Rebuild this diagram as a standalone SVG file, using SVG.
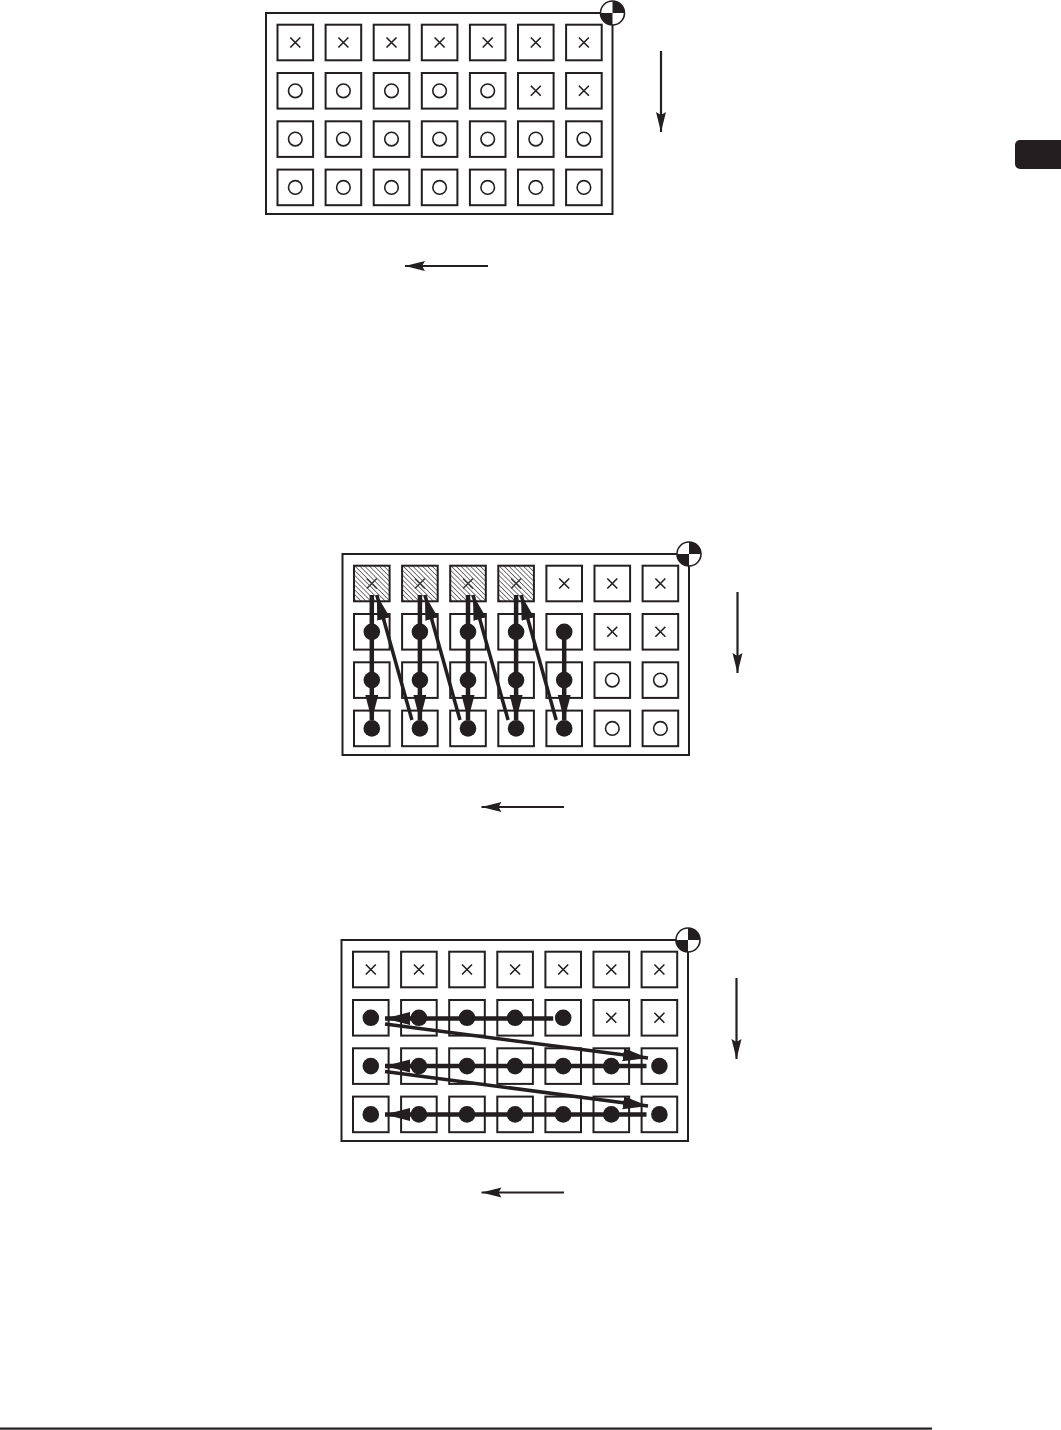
<svg xmlns="http://www.w3.org/2000/svg" xmlns:xlink="http://www.w3.org/1999/xlink" width="1061" height="1430" viewBox="0 0 1061 1430">
<style>
.frame{fill:#fff;stroke:#231f20;stroke-width:2}
.cell{fill:none;stroke:#231f20;stroke-width:2}
.xm{fill:none;stroke:#231f20;stroke-width:1.6}
.oc{fill:none;stroke:#231f20;stroke-width:1.6}
.dot{fill:#231f20}
.dir{stroke:#231f20;stroke-width:2.2;fill:none}
.flow{stroke:#231f20;stroke-width:4.5;fill:none}
.flowd{stroke:#231f20;stroke-width:3.5;fill:none}
</style>
<defs>
<pattern id="hatch" patternUnits="userSpaceOnUse" width="3.4" height="3.4" patternTransform="rotate(-45)">
<line x1="0" y1="0" x2="0" y2="3.4" stroke="#231f20" stroke-width="1.2"/>
</pattern>
<rect id="cell" class="cell" x="-17.8" y="-17.8" width="35.6" height="35.6"/>
<g id="cx"><use href="#cell"/><path class="xm" d="M-5,-5L5,5M5,-5L-5,5"/></g>
<g id="co"><use href="#cell"/><circle class="oc" r="6.8"/></g>
<g id="cd"><use href="#cell"/><circle class="dot" r="8.3"/></g>
<g id="ch"><rect x="-17.8" y="-17.8" width="35.6" height="35.6" fill="url(#hatch)" stroke="#231f20" stroke-width="2"/><path d="M-5,-5L5,5M5,-5L-5,5" stroke="#3a3a3a" stroke-width="1.6"/></g>
<g id="cog">
<circle r="12" fill="#fff" stroke="#231f20" stroke-width="1.6"/>
<path d="M0,0L0,-12A12,12 0 0 1 12,0Z" fill="#231f20"/>
<path d="M0,0L0,12A12,12 0 0 1 -12,0Z" fill="#231f20"/>
</g>
<marker id="ah" markerUnits="userSpaceOnUse" markerWidth="22" markerHeight="12" refX="20" refY="5" orient="auto" viewBox="0 0 22 12">
<path d="M0,0L20,5L0,10L3,5Z" fill="#231f20"/>
</marker>
<marker id="ahf" markerUnits="userSpaceOnUse" markerWidth="27" markerHeight="14" refX="25" refY="6.5" orient="auto" viewBox="0 0 27 14">
<path d="M0,0L25,6.5L0,13Z" fill="#231f20"/>
</marker>
</defs>

<rect x="0" y="0" width="1061" height="1430" fill="#fff"/>

<!-- side tab -->
<path id="tab" d="M1020,140H1061V169H1020A5,5 0 0 1 1015,164V145A5,5 0 0 1 1020,140Z" fill="#231f20"/>
<!-- bottom rule -->
<rect id="rule" x="0" y="1427.5" width="932" height="2.2" fill="#231f20"/>

<!-- Panel 1 -->
<g id="panel1" transform="translate(266,13)">
<rect class="frame" x="0" y="0" width="346.5" height="201"/>
<g id="p1-row0" transform="translate(0,29.5)">
<use href="#cx" x="29.3"/><use href="#cx" x="77.4"/><use href="#cx" x="125.5"/><use href="#cx" x="173.6"/><use href="#cx" x="221.7"/><use href="#cx" x="269.8"/><use href="#cx" x="317.9"/>
</g>
<g id="p1-row1" transform="translate(0,77.8)">
<use href="#co" x="29.3"/><use href="#co" x="77.4"/><use href="#co" x="125.5"/><use href="#co" x="173.6"/><use href="#co" x="221.7"/><use href="#cx" x="269.8"/><use href="#cx" x="317.9"/>
</g>
<g id="p1-row2" transform="translate(0,126.1)">
<use href="#co" x="29.3"/><use href="#co" x="77.4"/><use href="#co" x="125.5"/><use href="#co" x="173.6"/><use href="#co" x="221.7"/><use href="#co" x="269.8"/><use href="#co" x="317.9"/>
</g>
<g id="p1-row3" transform="translate(0,174.4)">
<use href="#co" x="29.3"/><use href="#co" x="77.4"/><use href="#co" x="125.5"/><use href="#co" x="173.6"/><use href="#co" x="221.7"/><use href="#co" x="269.8"/><use href="#co" x="317.9"/>
</g>
<use id="p1-cog" href="#cog" x="346.5" y="0"/>
</g>

<!-- Panel 2 -->
<g id="panel2" transform="translate(342.5,554)">
<rect class="frame" x="0" y="0" width="346.5" height="201"/>
<g id="p2-row0" transform="translate(0,29.5)">
<use href="#ch" x="29.3"/><use href="#ch" x="77.4"/><use href="#ch" x="125.5"/><use href="#ch" x="173.6"/><use href="#cx" x="221.7"/><use href="#cx" x="269.8"/><use href="#cx" x="317.9"/>
</g>
<g id="p2-row1" transform="translate(0,77.8)">
<use href="#cd" x="29.3"/><use href="#cd" x="77.4"/><use href="#cd" x="125.5"/><use href="#cd" x="173.6"/><use href="#cd" x="221.7"/><use href="#cx" x="269.8"/><use href="#cx" x="317.9"/>
</g>
<g id="p2-row2" transform="translate(0,126.1)">
<use href="#cd" x="29.3"/><use href="#cd" x="77.4"/><use href="#cd" x="125.5"/><use href="#cd" x="173.6"/><use href="#cd" x="221.7"/><use href="#co" x="269.8"/><use href="#co" x="317.9"/>
</g>
<g id="p2-row3" transform="translate(0,174.4)">
<use href="#cd" x="29.3"/><use href="#cd" x="77.4"/><use href="#cd" x="125.5"/><use href="#cd" x="173.6"/><use href="#cd" x="221.7"/><use href="#co" x="269.8"/><use href="#co" x="317.9"/>
</g>
<use id="p2-cog" href="#cog" x="346.5" y="0"/>
</g>

<!-- Panel 3 -->
<g id="panel3" transform="translate(341.5,940)">
<rect class="frame" x="0" y="0" width="346.5" height="201"/>
<g id="p3-row0" transform="translate(0,29.5)">
<use href="#cx" x="29.3"/><use href="#cx" x="77.4"/><use href="#cx" x="125.5"/><use href="#cx" x="173.6"/><use href="#cx" x="221.7"/><use href="#cx" x="269.8"/><use href="#cx" x="317.9"/>
</g>
<g id="p3-row1" transform="translate(0,77.8)">
<use href="#cd" x="29.3"/><use href="#cd" x="77.4"/><use href="#cd" x="125.5"/><use href="#cd" x="173.6"/><use href="#cd" x="221.7"/><use href="#cx" x="269.8"/><use href="#cx" x="317.9"/>
</g>
<g id="p3-row2" transform="translate(0,126.1)">
<use href="#cd" x="29.3"/><use href="#cd" x="77.4"/><use href="#cd" x="125.5"/><use href="#cd" x="173.6"/><use href="#cd" x="221.7"/><use href="#cd" x="269.8"/><use href="#cd" x="317.9"/>
</g>
<g id="p3-row3" transform="translate(0,174.4)">
<use href="#cd" x="29.3"/><use href="#cd" x="77.4"/><use href="#cd" x="125.5"/><use href="#cd" x="173.6"/><use href="#cd" x="221.7"/><use href="#cd" x="269.8"/><use href="#cd" x="317.9"/>
</g>
<use id="p3-cog" href="#cog" x="346.5" y="0"/>
</g>

<!-- Connectors -->
<g id="connectors">
<!-- direction arrows -->
<line class="dir" x1="661" y1="51" x2="661" y2="132" marker-end="url(#ah)"/>
<line class="dir" x1="488" y1="266" x2="405" y2="266" marker-end="url(#ah)"/>
<line class="dir" x1="737.5" y1="592" x2="737.5" y2="673" marker-end="url(#ah)"/>
<line class="dir" x1="564" y1="807" x2="481.5" y2="807" marker-end="url(#ah)"/>
<line class="dir" x1="736.5" y1="978" x2="736.5" y2="1059" marker-end="url(#ah)"/>
<line class="dir" x1="564" y1="1192.5" x2="481.5" y2="1192.5" marker-end="url(#ah)"/>

<!-- panel 2 flow -->
<g transform="translate(342.5,554)">
<line class="flow" x1="29.3" y1="41" x2="29.3" y2="166" marker-end="url(#ahf)"/>
<line class="flow" x1="77.4" y1="41" x2="77.4" y2="166" marker-end="url(#ahf)"/>
<line class="flow" x1="125.5" y1="41" x2="125.5" y2="166" marker-end="url(#ahf)"/>
<line class="flow" x1="173.6" y1="41" x2="173.6" y2="166" marker-end="url(#ahf)"/>
<line class="flow" x1="221.7" y1="77.8" x2="221.7" y2="166" marker-end="url(#ahf)"/>
<line class="flowd" x1="69.4" y1="166" x2="34.3" y2="41" marker-end="url(#ahf)"/>
<line class="flowd" x1="117.5" y1="166" x2="82.4" y2="41" marker-end="url(#ahf)"/>
<line class="flowd" x1="165.6" y1="166" x2="130.5" y2="41" marker-end="url(#ahf)"/>
<line class="flowd" x1="213.7" y1="166" x2="178.6" y2="41" marker-end="url(#ahf)"/>
</g>

<!-- panel 3 flow -->
<g transform="translate(341.5,940)">
<line class="flow" x1="211.7" y1="78.5" x2="43.5" y2="78.5" marker-end="url(#ahf)"/>
<line class="flow" x1="305" y1="126.1" x2="43.5" y2="126.1" marker-end="url(#ahf)"/>
<line class="flow" x1="305" y1="174.4" x2="43.5" y2="174.4" marker-end="url(#ahf)"/>
<line class="flowd" x1="43.5" y1="84" x2="306.5" y2="118" marker-end="url(#ahf)"/>
<line class="flowd" x1="43.5" y1="131.5" x2="306.5" y2="166" marker-end="url(#ahf)"/>
</g>
</g>
</svg>
